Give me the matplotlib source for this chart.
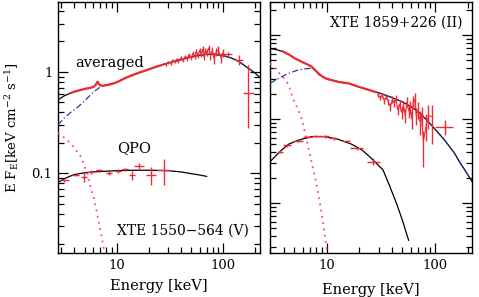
import numpy as np
import matplotlib
matplotlib.use("Agg")
import matplotlib.pyplot as plt
from matplotlib.ticker import FixedLocator, LogLocator, NullFormatter, FuncFormatter

plt.rcParams['font.family'] = ['DejaVu Serif']
plt.rcParams['mathtext.fontset'] = 'dejavuserif'

RED = '#ee2b33'
BLUE = '#2b3a9c'
PINK = '#ff3fb0'

# ---------------- Left panel: XTE 1550-564 (V) ----------------
L_model_E = [2.8, 3.2, 3.7, 4.3, 5.0, 6.0, 6.3, 6.6, 6.9, 7.5, 8, 10, 12, 15, 20, 25, 30, 40, 50, 60, 70, 80, 100, 120, 140, 170, 200, 222]
L_model_F = [0.53, 0.58, 0.62, 0.65, 0.68, 0.71, 0.74, 0.80, 0.74, 0.73, 0.74, 0.79, 0.87, 0.95, 1.06, 1.15, 1.22, 1.32, 1.40, 1.46, 1.49, 1.50, 1.45, 1.37, 1.27, 1.10, 0.97, 0.88]
L_comp_E = [2.8, 3.2, 3.7, 4.3, 4.9, 6.0, 7.0, 8, 10, 12, 15, 20, 25, 30, 40, 50, 60, 70, 80, 100, 120, 140, 170, 200, 222]
L_comp_F = [0.30, 0.35, 0.40, 0.45, 0.51, 0.63, 0.71, 0.74, 0.79, 0.87, 0.95, 1.06, 1.15, 1.22, 1.32, 1.40, 1.46, 1.49, 1.50, 1.45, 1.37, 1.27, 1.10, 0.97, 0.88]
L_disk_E = [2.8, 3.2, 3.7, 4.6, 5.3, 5.7, 6.1, 6.6, 7.1, 7.6, 7.8]
L_disk_F = [0.25, 0.225, 0.196, 0.145, 0.099, 0.07, 0.056, 0.038, 0.0256, 0.0175, 0.0155]
L_dense_E = [3.7, 4.0, 4.5, 5.0, 5.5, 6.0, 6.3, 6.6, 6.9, 7.3, 8.0, 9.0, 10, 11, 12, 14, 16, 18, 20, 22, 25]
L_dense_F = [0.62, 0.64, 0.66, 0.68, 0.69, 0.71, 0.74, 0.80, 0.74, 0.73, 0.74, 0.76, 0.79, 0.83, 0.87, 0.93, 0.98, 1.02, 1.06, 1.10, 1.15]
L_pts_E = [26, 27.5, 29, 30.5, 32, 33.5, 35, 36.5, 38, 40, 42, 44, 46, 48, 50, 52, 54, 56, 58, 60, 62, 64, 66, 68, 70, 73, 76, 79, 82, 86, 90, 95, 100]
L_pts_F = [1.17, 1.20, 1.19, 1.25, 1.22, 1.30, 1.26, 1.33, 1.28, 1.37, 1.30, 1.42, 1.36, 1.48, 1.38, 1.52, 1.43, 1.60, 1.45, 1.63, 1.50, 1.68, 1.42, 1.62, 1.55, 1.72, 1.45, 1.62, 1.35, 1.58, 1.65, 1.38, 1.55]
L_pts_err = [0.03, 0.03, 0.035, 0.04, 0.04, 0.045, 0.045, 0.05, 0.05, 0.055, 0.06, 0.06, 0.065, 0.07, 0.07, 0.08, 0.08, 0.09, 0.09, 0.10, 0.10, 0.11, 0.11, 0.12, 0.12, 0.13, 0.13, 0.14, 0.14, 0.15, 0.16, 0.16, 0.15]
L_big_E = [110, 142, 173]
L_big_Elo = [100, 133, 155]
L_big_Ehi = [120, 155, 193]
L_big_F = [1.50, 1.30, 0.62]
L_big_Flo = [1.42, 1.17, 0.28]
L_big_Fhi = [1.58, 1.47, 1.17]

L_qpo_model_E = [2.8, 3.2, 3.6, 4.0, 5.0, 6.0, 7.0, 8.5, 10, 15, 20, 30, 40, 50, 60, 70]
L_qpo_model_F = [0.081, 0.088, 0.093, 0.097, 0.101, 0.103, 0.104, 0.105, 0.106, 0.107, 0.107, 0.106, 0.103, 0.099, 0.096, 0.093]
L_qpo_E = [3.2, 4.1, 4.95, 5.7, 6.85, 8.5, 10.2, 12.0, 13.9, 16.3, 21.0, 27.5]
L_qpo_Elo = [2.98, 3.8, 4.6, 5.3, 6.4, 7.9, 9.6, 11.3, 13.0, 14.6, 18.8, 23.8]
L_qpo_Ehi = [3.54, 4.4, 5.3, 6.1, 7.3, 9.1, 10.9, 12.8, 14.9, 18.2, 23.5, 31.8]
L_qpo_F = [0.085, 0.096, 0.092, 0.103, 0.107, 0.101, 0.105, 0.109, 0.096, 0.117, 0.096, 0.107]
L_qpo_Flo = [0.082, 0.093, 0.082, 0.099, 0.103, 0.097, 0.101, 0.105, 0.085, 0.109, 0.076, 0.076]
L_qpo_Fhi = [0.088, 0.099, 0.103, 0.107, 0.111, 0.105, 0.109, 0.113, 0.105, 0.126, 0.115, 0.139]

# ---------------- Right panel: XTE 1859+226 (II) ----------------
R_model_E = [2.97, 3.4, 3.95, 4.5, 5.0, 5.84, 6.5, 7.2, 7.8, 8.5, 9.3, 10, 11.1, 13, 15.8, 20, 25, 30, 40, 50, 60, 73, 90, 120, 150, 171, 200, 220]
R_model_F = [0.69, 0.67, 0.633, 0.58, 0.53, 0.48, 0.45, 0.42, 0.38, 0.34, 0.314, 0.30, 0.29, 0.275, 0.266, 0.24, 0.22, 0.205, 0.18, 0.16, 0.14, 0.117, 0.088, 0.058, 0.040, 0.030, 0.022, 0.018]
R_comp_E = [2.97, 3.5, 4.1, 4.7, 5.4, 6.2, 7.0, 7.8, 8.5, 9.3, 10, 11.1, 13, 15.8, 20, 25, 30, 40, 50, 60, 73, 90, 120, 150, 171, 200, 220]
R_comp_F = [0.266, 0.30, 0.334, 0.36, 0.383, 0.395, 0.40, 0.38, 0.34, 0.314, 0.30, 0.29, 0.275, 0.266, 0.24, 0.22, 0.205, 0.18, 0.16, 0.14, 0.117, 0.088, 0.058, 0.040, 0.030, 0.022, 0.018]
R_disk_E = [2.97, 3.43, 4.24, 4.55, 4.89, 5.4, 5.84, 6.7, 7.0, 7.77, 8.3, 9.0, 9.96]
R_disk_F = [0.46, 0.38, 0.28, 0.23, 0.17, 0.13, 0.10, 0.047, 0.036, 0.02, 0.013, 0.007, 0.0028]
R_dense_E = [3.95, 4.5, 5.0, 5.84, 6.5, 7.2, 7.8, 8.5, 9.3, 10, 11.1, 13, 15.8, 20, 25, 28]
R_dense_F = [0.633, 0.58, 0.53, 0.48, 0.45, 0.42, 0.38, 0.34, 0.314, 0.30, 0.29, 0.275, 0.266, 0.24, 0.22, 0.21]
R_pts_E = [29.5, 31, 32.5, 34, 35.5, 37, 38.7, 40.3, 42, 43.5, 45, 47, 49, 51, 53, 55, 57, 59, 61, 63, 65, 67, 70, 72, 75, 78, 83, 87, 93]
R_pts_F = [0.195, 0.18, 0.19, 0.165, 0.185, 0.16, 0.14, 0.17, 0.155, 0.175, 0.13, 0.15, 0.12, 0.145, 0.11, 0.16, 0.125, 0.14, 0.10, 0.16, 0.17, 0.11, 0.13, 0.095, 0.11, 0.054, 0.085, 0.11, 0.107]
R_pts_Flo = [0.185, 0.168, 0.178, 0.151, 0.171, 0.145, 0.125, 0.154, 0.139, 0.157, 0.112, 0.132, 0.10, 0.125, 0.09, 0.138, 0.103, 0.116, 0.076, 0.13, 0.135, 0.085, 0.10, 0.065, 0.08, 0.027, 0.055, 0.075, 0.051]
R_pts_Fhi = [0.205, 0.192, 0.202, 0.179, 0.199, 0.175, 0.155, 0.186, 0.171, 0.193, 0.148, 0.168, 0.14, 0.165, 0.13, 0.182, 0.147, 0.164, 0.124, 0.19, 0.205, 0.135, 0.16, 0.125, 0.14, 0.071, 0.115, 0.145, 0.147]
R_big_E = [124]
R_big_Elo = [100]
R_big_Ehi = [147]
R_big_F = [0.081]
R_big_Flo = [0.065]
R_big_Fhi = [0.097]

R_qpo_model_E = [2.97, 3.68, 4.4, 5.44, 7.2, 9.6, 12.7, 17, 19, 21, 24, 27, 33, 38, 44, 50, 57]
R_qpo_model_F = [0.031, 0.041, 0.050, 0.056, 0.0617, 0.0617, 0.0573, 0.050, 0.046, 0.043, 0.037, 0.032, 0.0248, 0.016, 0.0099, 0.0062, 0.0036]
R_qpo_E = [3.68, 4.24, 5.44, 6.6, 8.0, 9.6, 11.5, 15.3, 19.0, 26.9]
R_qpo_Elo = [3.5, 3.95, 4.9, 6.0, 7.3, 8.8, 10.5, 14.0, 16.5, 23.4]
R_qpo_Ehi = [3.9, 4.6, 6.0, 7.3, 8.8, 10.5, 12.5, 16.5, 21.5, 30.7]
R_qpo_F = [0.041, 0.049, 0.055, 0.061, 0.063, 0.062, 0.059, 0.055, 0.0446, 0.031]
R_qpo_Flo = [0.039, 0.047, 0.053, 0.059, 0.061, 0.060, 0.057, 0.053, 0.043, 0.028]
R_qpo_Fhi = [0.043, 0.051, 0.057, 0.063, 0.065, 0.064, 0.061, 0.057, 0.0462, 0.034]

x_ticks = [10, 100]
x_ticklabels = ['10', '100']
L_y_ticks = [0.1, 1]
L_y_ticklabels = ['0.1', '1']


def xerr(E, lo, hi):
    E = np.asarray(E); return [E - np.asarray(lo), np.asarray(hi) - E]


def yerr(F, lo, hi):
    F = np.asarray(F); return [F - np.asarray(lo), np.asarray(hi) - F]


fig = plt.figure(figsize=(4.79, 2.97), dpi=100)
axL = fig.add_axes([58/479, 44/297, 202/479, 251/297])
axR = fig.add_axes([270/479, 44/297, 202/479, 251/297])

ekw = dict(fmt='none', ecolor=RED, elinewidth=1.0, capsize=0, zorder=4)

# left
axL.plot(L_model_E, L_model_F, color='black', lw=0.9, zorder=2)
axL.plot(L_comp_E, L_comp_F, color=BLUE, lw=0.9, ls=(0, (5, 2, 1, 2)), zorder=3)
axL.plot(L_disk_E, L_disk_F, color=PINK, lw=1.3, ls=(0, (1, 2.5)), zorder=3)
axL.plot(L_dense_E, L_dense_F, color=RED, lw=1.6, zorder=4)
axL.errorbar(L_pts_E, L_pts_F, yerr=L_pts_err, **ekw)
axL.plot(L_pts_E, L_pts_F, color=RED, lw=0.8, zorder=4)
axL.errorbar(L_big_E, L_big_F, xerr=xerr(L_big_E, L_big_Elo, L_big_Ehi), yerr=yerr(L_big_F, L_big_Flo, L_big_Fhi), **ekw)
axL.plot(L_qpo_model_E, L_qpo_model_F, color='black', lw=0.9, zorder=2)
axL.errorbar(L_qpo_E, L_qpo_F, xerr=xerr(L_qpo_E, L_qpo_Elo, L_qpo_Ehi), yerr=yerr(L_qpo_F, L_qpo_Flo, L_qpo_Fhi), **ekw)

# right
axR.plot(R_model_E, R_model_F, color='black', lw=0.9, zorder=2)
axR.plot(R_comp_E, R_comp_F, color=BLUE, lw=0.9, ls=(0, (5, 2, 1, 2)), zorder=3)
axR.plot(R_disk_E, R_disk_F, color=PINK, lw=1.3, ls=(0, (1, 2.5)), zorder=3)
axR.plot(R_dense_E, R_dense_F, color=RED, lw=1.6, zorder=4)
axR.errorbar(R_pts_E, R_pts_F, yerr=yerr(R_pts_F, R_pts_Flo, R_pts_Fhi), **ekw)
axR.plot(R_pts_E, R_pts_F, color=RED, lw=0.8, zorder=4)
axR.errorbar(R_big_E, R_big_F, xerr=xerr(R_big_E, R_big_Elo, R_big_Ehi), yerr=yerr(R_big_F, R_big_Flo, R_big_Fhi), **ekw)
axR.plot(R_qpo_model_E, R_qpo_model_F, color='black', lw=0.9, zorder=2)
axR.errorbar(R_qpo_E, R_qpo_F, xerr=xerr(R_qpo_E, R_qpo_Elo, R_qpo_Ehi), yerr=yerr(R_qpo_F, R_qpo_Flo, R_qpo_Fhi), **ekw)

for ax in (axL, axR):
    ax.set_xscale('log'); ax.set_yscale('log')
    ax.xaxis.set_major_locator(FixedLocator(x_ticks))
    ax.xaxis.set_major_formatter(FuncFormatter(lambda v, p: x_ticklabels[x_ticks.index(v)] if v in x_ticks else ''))
    ax.xaxis.set_minor_locator(LogLocator(base=10, subs=np.arange(2, 10)))
    ax.xaxis.set_minor_formatter(NullFormatter())
    ax.yaxis.set_minor_locator(LogLocator(base=10, subs=np.arange(2, 10), numticks=20))
    ax.yaxis.set_minor_formatter(NullFormatter())
    ax.tick_params(which='both', direction='in', top=True, right=True, width=0.9, labelsize=9.5, pad=4)
    ax.tick_params(which='major', length=7)
    ax.tick_params(which='minor', length=4)
    for s in ax.spines.values():
        s.set_linewidth(1.0)
    ax.set_xlabel('Energy [keV]', fontsize=10.5)

axL.set_xlim(2.8, 222)
axL.set_ylim(0.0163, 4.9)
axL.yaxis.set_major_locator(FixedLocator(L_y_ticks))
axL.yaxis.set_major_formatter(FuncFormatter(lambda v, p: L_y_ticklabels[L_y_ticks.index(v)] if v in L_y_ticks else ''))
axL.set_ylabel(r'E F$_{\rm E}$[keV cm$^{-2}$ s$^{-1}$]', fontsize=9.5)
axL.yaxis.set_label_coords(-0.185, 0.498)
axL.xaxis.set_label_coords(0.5, -0.105)

axR.set_xlim(2.97, 220)
axR.set_ylim(0.00254, 2.47)
axR.yaxis.set_major_locator(FixedLocator([0.01, 0.1, 1]))
axR.yaxis.set_major_formatter(NullFormatter())
axR.xaxis.set_label_coords(0.5, -0.118)

axL.text(75/479, 1 - 63/297, 'averaged', transform=fig.transFigure, fontsize=10.5, va='center', ha='left')
axL.text(117/479, 1 - 148/297, 'QPO', transform=fig.transFigure, fontsize=10.5, va='center', ha='left')
axL.text(117/479, 1 - 230.5/297, 'XTE 1550\u2212564 (V)', transform=fig.transFigure, fontsize=10, va='center', ha='left', zorder=10)
axR.text(462/479, 1 - 23/297, 'XTE 1859+226 (II)', transform=fig.transFigure, fontsize=10, va='center', ha='right')

fig.savefig('out.png', dpi=100)
